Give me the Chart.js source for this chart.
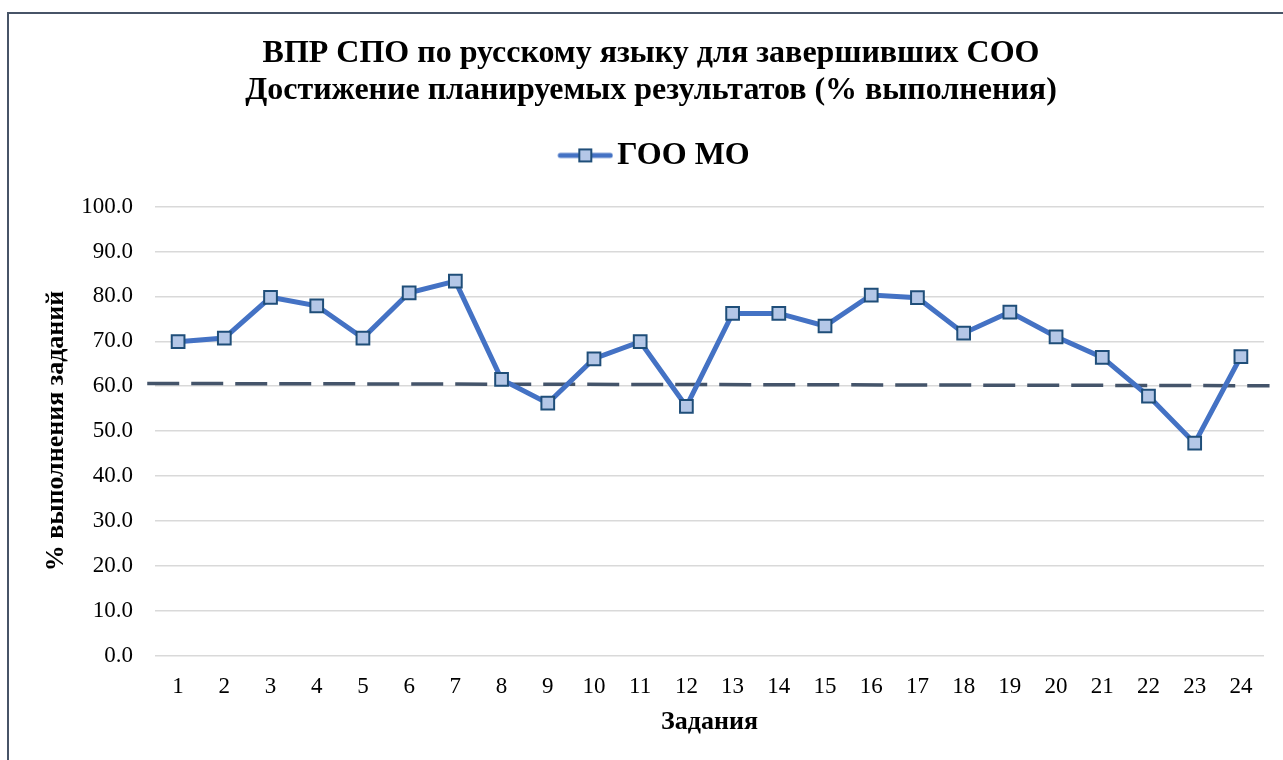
<!DOCTYPE html>
<html lang="ru">
<head>
<meta charset="utf-8">
<title>ВПР СПО по русскому языку</title>
<script src="https://cdn.jsdelivr.net/npm/chart.js@4.4.1/dist/chart.umd.min.js"></script>
<style>
    html, body { margin: 0; padding: 0; background: #fff; overflow: hidden; }
    .moldura {
        position: absolute; left: 7px; top: 12px; width: 1400px; height: 900px;
        border: 2px solid #475467; box-sizing: border-box;
    }
    #graficoVPR { position: absolute; left: 0; top: 0; }
</style>
</head>
<body>
<div class="moldura"></div>
<canvas id="graficoVPR" width="1283" height="760"></canvas>
<script>
// * Dados do gráfico
var tarefas = ['1', '2', '3', '4', '5', '6', '7', '8', '9', '10', '11', '12',
    '13', '14', '15', '16', '17', '18', '19', '20', '21', '22', '23', '24'];
var valoresGOO = [69.9, 70.7, 79.8, 77.9, 70.7, 80.8, 83.4, 61.5, 56.2, 66.1, 69.9, 55.5,
    76.2, 76.2, 73.4, 80.3, 79.7, 71.8, 76.5, 71.0, 66.4, 57.8, 47.3, 66.6];
// > linha tracejada (nível de referência), de ponta a ponta da área do gráfico
var referenciaX = [-0.007, 1.005];
var referenciaY = [60.6, 60.1];
var ticksY = [0, 10, 20, 30, 40, 50, 60, 70, 80, 90, 100];

var titulo = ['ВПР СПО по русскому языку для завершивших СОО',
    'Достижение планируемых результатов (% выполнения)'];
var nomeSerie = 'ГОО МО';
var tituloX = 'Задания';
var tituloY = '% выполнения заданий';

var fonte = '"Liberation Serif", "Times New Roman", serif';

// * Ícone da legenda: linha com o marcador quadrado (sobra transparente à esquerda)
var iconeLegenda = document.createElement('canvas');
iconeLegenda.width = 73;
iconeLegenda.height = 16;
var ic = iconeLegenda.getContext('2d');
ic.strokeStyle = '#4472C4';
ic.lineWidth = 5;
ic.lineCap = 'round';
ic.beginPath();
ic.moveTo(20, 8);
ic.lineTo(70, 8);
ic.stroke();
ic.fillStyle = '#B4C7E7';
ic.fillRect(39, 2, 12, 12);
ic.strokeStyle = '#1F4E79';
ic.lineWidth = 2;
ic.strokeRect(39, 2, 12, 12);

var referencia = [];
for (var i = 0; i < referenciaX.length; i++) {
    referencia.push({ x: referenciaX[i], y: referenciaY[i] });
}

var data = {
    labels: tarefas,
    datasets: [{
        label: nomeSerie,
        data: valoresGOO,
        borderColor: '#4472C4',
        borderWidth: 5,
        pointStyle: 'rect',
        pointRadius: 9,
        pointBackgroundColor: '#B4C7E7',
        pointBorderColor: '#1F4E79',
        pointBorderWidth: 2,
        tension: 0
    }, {
        label: 'referencia',
        data: referencia,
        xAxisID: 'x2',
        borderColor: '#44546A',
        borderWidth: 3.5,
        borderDash: [32, 12],
        pointRadius: 0,
        clip: false
    }]
};

var options = {
    responsive: false,
    animation: false,
    layout: { padding: { left: 38, right: 19, top: 0, bottom: 0 } },
    plugins: {
        title: {
            display: true,
            text: titulo,
            color: '#000',
            font: { family: fonte, size: 32, weight: 'bold', lineHeight: 1.17 },
            padding: { top: 35, bottom: 0 }
        },
        legend: {
            display: true,
            labels: {
                usePointStyle: true,
                pointStyleWidth: 49,
                generateLabels: function (chart) {
                    return [{
                        text: nomeSerie,
                        pointStyle: iconeLegenda,
                        fontColor: '#000',
                        lineWidth: 0,
                        datasetIndex: 0
                    }];
                },
                color: '#000',
                font: { family: fonte, size: 32, weight: 'bold' },
                padding: 29.5
            }
        },
        tooltip: { enabled: false }
    },
    scales: {
        x: {
            type: 'category',
            offset: true,
            grid: { display: false },
            border: { display: false },
            ticks: {
                color: '#000',
                font: { family: fonte, size: 23 },
                padding: 10,
                maxRotation: 0,
                autoSkip: false
            },
            title: {
                display: true,
                text: tituloX,
                color: '#000',
                font: { family: fonte, size: 26, weight: 'bold' },
                padding: { top: 0, bottom: 22 }
            },
            afterFit: function (scale) { scale.height = 104.5; }
        },
        x2: {
            type: 'linear',
            position: 'top',
            min: 0,
            max: 1,
            display: true,
            grid: { display: false },
            border: { display: false },
            ticks: { display: false },
            afterFit: function (scale) { scale.height = 25.2; }
        },
        y: {
            min: 0,
            max: 100,
            afterBuildTicks: function (scale) {
                scale.ticks = ticksY.map(function (v) { return { value: v }; });
            },
            grid: { color: '#D9D9D9', lineWidth: 1.5, drawTicks: false },
            border: { display: false },
            ticks: {
                color: '#000',
                font: { family: fonte, size: 23 },
                padding: 22,
                callback: function (v) { return Number(v).toFixed(1); }
            },
            title: {
                display: true,
                text: tituloY,
                color: '#000',
                font: { family: fonte, size: 26, weight: 'bold' },
                padding: { top: 3, bottom: 0 }
            },
            afterFit: function (scale) { scale.width = 117; }
        }
    }
};

var ctx = document.getElementById('graficoVPR').getContext('2d');
var grafico = new Chart(ctx, {
    type: 'line',
    data: data,
    options: options
});
</script>
</body>
</html>
